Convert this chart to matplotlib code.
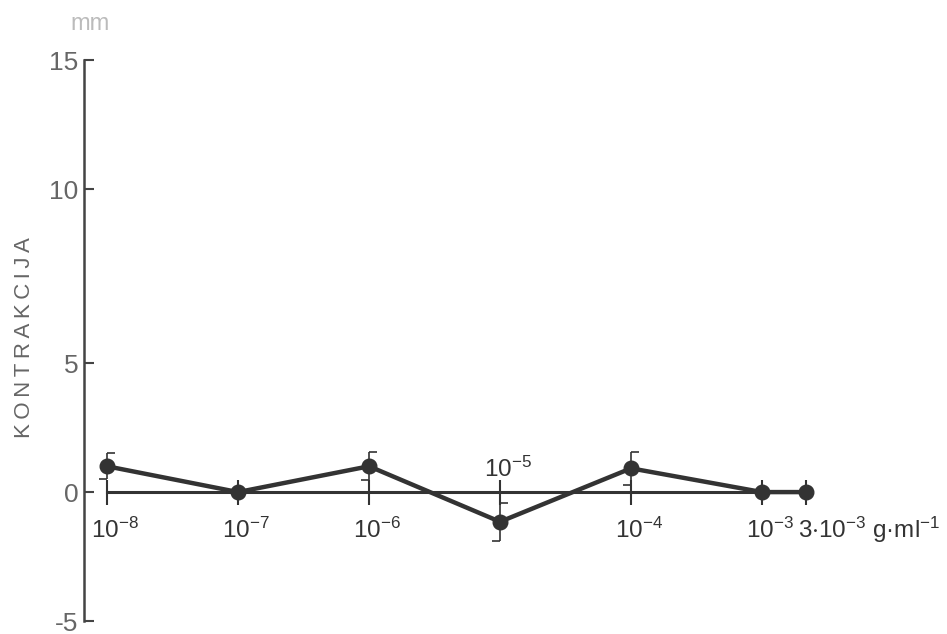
import matplotlib
matplotlib.use("Agg")
import matplotlib.pyplot as plt
import numpy as np

# concentrations (g/ml) and contraction (mm)
conc = [1e-8, 1e-7, 1e-6, 1e-5, 1e-4, 1e-3, 3e-3]
contraction = [1.0, 0.0, 1.0, -1.15, 0.92, 0.0, 0.0]
error = [0.5, 0.0, 0.55, 0.73, 0.63, 0.0, 0.0]
conc_labels = ["10^{-8}", "10^{-7}", "10^{-6}", "10^{-5}", "10^{-4}", "10^{-3}", "3{\\cdot}10^{-3}"]
y_ticks = [-5, 0, 5, 10, 15]

plt.rcParams['font.family'] = ['Liberation Sans', 'DejaVu Sans']
plt.rcParams['mathtext.fontset'] = 'custom'
plt.rcParams['mathtext.rm'] = 'Liberation Sans'
plt.rcParams['axes.unicode_minus'] = False

INK = '#333333'
GREY = '#666666'

# the original drawing is not quite uniform: the last x step and the 5..10 y step are stretched
X_K = 44 / (131 * np.log10(3))
Y_K = 175 / 130


def fx(x):
    lx = np.log10(np.clip(x, 1e-30, None))
    return np.interp(lx, [-30, -3, 0], [-30, -3, -3 + 3 * X_K])


def fx_inv(v):
    return 10 ** np.interp(v, [-30, -3, -3 + 3 * X_K], [-30, -3, 0])


def fy(y):
    return np.interp(y, [-100, 5, 10, 100], [-100, 5, 5 + 5 * Y_K, 95 + 5 * Y_K])


def fy_inv(v):
    return np.interp(v, [-100, 5, 5 + 5 * Y_K, 95 + 5 * Y_K], [-100, 5, 10, 100])


fig = plt.figure(figsize=(9.47, 6.34), dpi=100)
ax = fig.add_axes([0, 0, 1, 1])
ax.patch.set_visible(False)
ax.set_xscale('function', functions=(fx, fx_inv))
ax.set_yscale('function', functions=(fy, fy_inv))
ax.set_xlim(fx_inv(-8.817), fx_inv(-1.588))
ax.set_ylim(fy_inv(-5.50), fy_inv(19.07))

# axes
for s in ['top', 'right']:
    ax.spines[s].set_visible(False)
ax.spines['left'].set_position(('data', fx_inv(-8.176)))
ax.spines['left'].set_bounds(-5, 15)
ax.spines['left'].set_linewidth(1.8)
ax.spines['left'].set_color('#444444')
ax.spines['bottom'].set_position(('data', 0))
ax.spines['bottom'].set_bounds(conc[0], conc[-1])
ax.spines['bottom'].set_linewidth(2.2)
ax.spines['bottom'].set_color(INK)

ax.set_yticks(y_ticks)
ax.set_yticklabels([str(t) for t in y_ticks])
ax.yaxis.set_minor_locator(matplotlib.ticker.NullLocator())
ax.tick_params(axis='y', direction='in', length=7, width=1.5, colors='#444444',
               labelcolor=GREY, labelsize=19, pad=4)

ax.set_xticks(conc)
ax.xaxis.set_minor_locator(matplotlib.ticker.NullLocator())
ax.tick_params(axis='x', direction='inout', length=18, width=1.5, colors=INK,
               labelbottom=False)

# data
ax.plot(conc, contraction, color=INK, lw=3.2, marker='o', ms=10.5, zorder=3, clip_on=False)
for x, y, e in zip(conc, contraction, error):
    if e <= 0:
        continue
    ax.vlines(x, y - e, y + e, color=INK, lw=1.2, zorder=2)
    ax.plot([x], [y + e], ls='none', marker=[(0, 0), (1, 0)], ms=12, mew=1.2, mec=INK, zorder=2)
    ax.plot([x], [y - e], ls='none', marker=[(0, 0), (-1, 0)], ms=12, mew=1.2, mec=INK, zorder=2)

# x labels: below the zero line, 10^-5 above it, the last one with the unit
for i, (x, lab) in enumerate(zip(conc, conc_labels)):
    text = "$\\mathregular{" + lab + "}$"
    ha, dx, dy = 'center', 6, -33
    if i == 3:
        dy = 11
    if i == len(conc) - 1:
        text += " g·ml$\\mathregular{^{-1}}$"
        ha, dx = 'left', -6
    ax.annotate(text, (x, 0), xytext=(dx, dy), textcoords='offset points',
                ha=ha, va='baseline', fontsize=17.5, color=INK)

fig.text(25 / 947, 1 - 338 / 634, '\u2009'.join('KONTRAKCIJA'), rotation=90,
         ha='center', va='center', fontsize=16, color=GREY)
fig.text(90 / 947, 1 - 24 / 634, 'mm', ha='center', va='center', fontsize=17, color='#bbbbbb')

fig.savefig('out.png', dpi=100)
